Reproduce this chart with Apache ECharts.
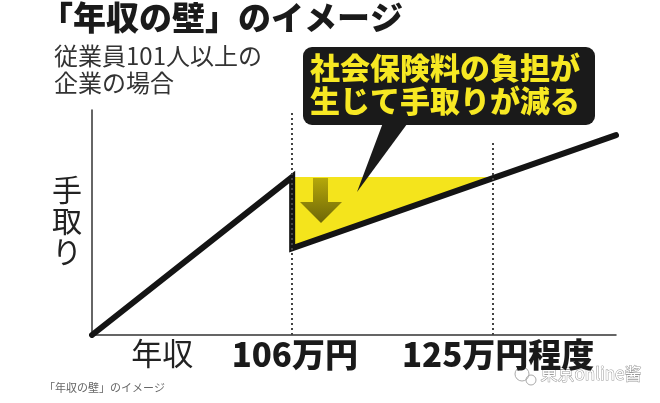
<!DOCTYPE html>
<html><head><meta charset="utf-8">
<script src="https://cdn.jsdelivr.net/npm/echarts@6/dist/echarts.min.js"></script>
<style>html,body{margin:0;padding:0;background:#fff}#c{width:660px;height:403px}</style>
</head><body><div id="c"></div>
<script>
// conceptual units (0-100) for income (x) and take-home pay (y)
var takeHomeLine = [[0, 0], [38.2, 70.2], [38.2, 38.5], [100, 88.8]];
var lossArea = [[38.2, 70.2], [77.2, 70.2], [38.2, 38.5]];
var wallPositions = [38.2, 76.5];
var tickValues = [13.4, 38.7, 77.5];
var tickLabels = ['年収', '106万円', '125万円程度'];
var tickBold = [false, true, true];

var FONT = '"Noto Sans CJK JP", "Noto Sans CJK SC", sans-serif';
var chart = echarts.init(document.getElementById('c'), null, {renderer: 'canvas'});

chart.setOption({
  animation: false,
  backgroundColor: '#ffffff',
  grid: {left: 92, right: 44, top: 110, bottom: 68, containLabel: false},
  xAxis: {
    type: 'value', min: 0, max: 100,
    axisLine: {show: true, lineStyle: {color: '#333', width: 1.5}},
    axisTick: {show: false}, splitLine: {show: false},
    axisLabel: {
      customValues: tickValues, margin: 3, showMinLabel: true, showMaxLabel: true,
      formatter: function (v) {
        var i = tickValues.indexOf(v);
        if (i < 0) return '';
        return tickBold[i] ? '{b|' + tickLabels[i] + '}' : '{n|' + tickLabels[i] + '}';
      },
      rich: {
        n: {fontFamily: FONT, fontSize: 31, color: '#222', fontWeight: 'normal'},
        b: {fontFamily: FONT, fontSize: 33, color: '#1a1a1a', fontWeight: 900}
      }
    }
  },
  yAxis: {
    type: 'value', min: 0, max: 100,
    axisLine: {show: true, lineStyle: {color: '#333', width: 1.5}},
    axisTick: {show: false}, splitLine: {show: false}, axisLabel: {show: false}
  },
  series: [
    {
      type: 'custom', z: 1, silent: true,
      renderItem: function (params, api) {
        var pts = lossArea.map(function (p) { return api.coord(p); });
        return {type: 'polygon', shape: {points: pts}, style: {fill: '#f4e41c'}};
      },
      data: [0]
    },
    {
      type: 'line', z: 3, data: takeHomeLine, symbol: 'none', silent: true,
      lineStyle: {color: '#141414', width: 6, cap: 'round', join: 'miter'},
      markLine: {
        silent: true, symbol: 'none', label: {show: false},
        lineStyle: {color: '#444', type: [2, 3], width: 2},
        data: [
          [{coord: [wallPositions[0], 0]}, {coord: [wallPositions[0], 100]}],
          [{coord: [wallPositions[1], 0]}, {coord: [wallPositions[1], 86]}]
        ]
      }
    }
  ],
  graphic: [
    {type: 'text', left: 40, top: 1, style: {text: '「年収の壁」のイメージ', font: '900 33px ' + FONT, fill: '#1a1a1a'}},
    {type: 'text', left: 54, top: 42, style: {text: '従業員101人以上の\n企業の場合', font: '24px ' + FONT, lineHeight: 27, fill: '#333'}},
    {type: 'text', left: 52, top: 174, style: {text: '手\n取\nり', font: '30px ' + FONT, lineHeight: 31, fill: '#222'}},
    // callout
    {type: 'polygon', z: 10, shape: {points: [[384, 120], [410, 120], [357, 192]]}, style: {fill: '#1a1a1a'}},
    {type: 'rect', z: 10, shape: {x: 303, y: 47, width: 292, height: 78, r: 9}, style: {fill: '#1a1a1a'}},
    {type: 'text', z: 11, left: 310, top: 51, style: {text: '社会保険料の負担が\n生じて手取りが減る', font: '900 30px ' + FONT, lineHeight: 33, fill: '#f7e823'}},
    // arrow
    {type: 'polygon', z: 5, shape: {points: [[313, 178], [328, 178], [328, 202], [342, 202], [321, 223], [300, 202], [313, 202]]},
      style: {fill: new echarts.graphic.LinearGradient(0, 0, 0, 1, [{offset: 0, color: '#b5a80a'}, {offset: 1, color: '#6e6608'}])}},
    // caption & watermark
    {type: 'text', left: 44, top: 382, style: {text: '「年収の壁」のイメージ', font: '11px ' + FONT, fill: '#666'}},
    {type: 'circle', shape: {cx: 522, cy: 374, r: 7}, style: {fill: 'none', stroke: '#aaa', lineWidth: 1}},
    {type: 'circle', shape: {cx: 531, cy: 380, r: 5}, style: {fill: 'none', stroke: '#aaa', lineWidth: 1}},
    {type: 'text', left: 540, top: 365, style: {text: '東京online酱', font: '17px "Noto Sans CJK SC", sans-serif', fill: '#ffffff', stroke: '#9a9a9a', lineWidth: 1}}
  ]
});
</script></body></html>
